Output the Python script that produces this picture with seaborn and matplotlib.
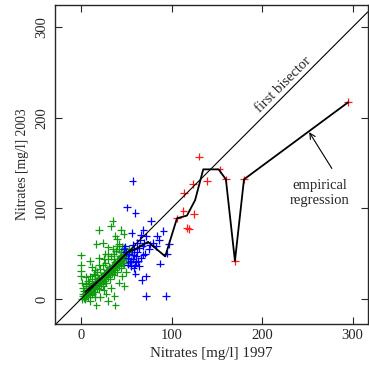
# Nitrates 1997 vs 2003
import pandas as pd
import matplotlib
matplotlib.use('Agg')
import matplotlib.pyplot as plt
import seaborn as sns

# dados
verde_x = [0, 0, 0, 0, 1, 2, 17, 24, 20, 35, 33, 44, 47, 40, 42, 38, 30, 27, 10, 12,
           28, 37, 21, 17, 38, 30, 48, 45, 42, 33, 25, 15, 10, 8, 5, 50, 52, 36, 20, 14,
           1, 2, 3, 4, 5, 6, 7, 8, 9, 10, 11, 12, 13, 14, 15, 16, 17, 18, 19, 20,
           21, 22, 23, 24, 25, 26, 27, 28, 29, 30, 31, 32, 33, 34, 35, 36, 37, 38, 39, 40,
           41, 42, 43, 44, 45, 46, 47, 48, 49, 50,
           3, 6, 9, 12, 15, 18, 21, 24, 27, 30, 33, 36, 39, 42, 45, 48,
           5, 10, 15, 20, 25, 30, 35, 40, 44,
           4, 8, 12, 16, 20, 24, 28, 32, 36, 40, 44, 48,
           10, 14, 18, 22, 26, 30, 34, 38, 42, 46, 50,
           2, 5, 8, 11, 14, 17, 20, 23, 26, 29, 32, 35, 38, 41, 44, 47, 50,
           6, 9, 13, 16, 19, 22, 25, 28, 31, 34, 37, 40, 43, 46, 49, 52, 53, 55]
verde_y = [48, 38, 31, 25, 18, 12, 61, 62, 76, 86, 80, 76, 72, 66, 61, 70, 57, 50, 42, 35,
           6, 3, 2, -7, -7, -2, 14, 25, 18, 12, 10, 2, -2, 20, 24, 30, 40, 44, 45, 28,
           0, 3, 1, 5, 3, 8, 5, 10, 7, 12, 9, 14, 11, 16, 13, 18, 15, 20, 17, 22,
           19, 24, 21, 26, 23, 28, 25, 30, 27, 32, 29, 34, 31, 36, 33, 38, 35, 40, 37, 42,
           39, 44, 41, 46, 43, 48, 45, 50, 47, 52,
           9, 14, 18, 22, 26, 30, 33, 37, 40, 44, 47, 50, 53, 55, 58, 56,
           16, 25, 32, 38, 44, 50, 55, 58, 52,
           0, 2, 5, 8, 11, 14, 18, 22, 26, 30, 34, 38,
           4, 8, 12, 16, 20, 24, 28, 32, 36, 40, 44,
           6, 7, 6, 14, 12, 20, 18, 26, 24, 32, 30, 38, 36, 44, 42, 50, 48,
           4, 12, 16, 14, 23, 20, 29, 26, 35, 32, 41, 38, 47, 44, 53, 50, 55, 52]

azul_x = [57, 51, 60, 77, 91, 56, 69, 72, 86, 95, 87, 69, 60, 67, 72, 72, 94, 56, 61, 54,
          49, 65, 80, 84, 97, 83, 66, 55, 52, 58, 62, 64, 57, 60, 63, 66, 53, 59, 68, 70,
          75, 62, 50, 55, 58, 47, 64, 71, 76, 52, 57, 61]
azul_y = [130, 101, 95, 86, 75, 73, 76, 69, 65, 50, 39, 49, 28, 21, 25, 3, 3, 54, 47, 41,
          58, 65, 62, 70, 61, 58, 71, 42, 45, 48, 52, 56, 60, 38, 42, 45, 50, 55, 58, 62,
          55, 62, 52, 36, 34, 55, 36, 50, 60, 38, 44, 41]

vermelho_x = [106, 113, 114, 117, 119, 124, 125, 130, 139, 153, 160, 170, 180, 295]
vermelho_y = [89, 97, 117, 78, 77, 127, 94, 157, 130, 143, 132, 42, 132, 217]

# regressao empirica
reg_x = [5, 25, 52, 60, 74, 93, 106, 117, 126, 135, 152, 160, 170, 180, 295]
reg_y = [8, 25, 52, 55, 63, 47, 89, 92, 109, 143, 143, 132, 42, 132, 217]

df = pd.DataFrame({
    'x': verde_x + azul_x + vermelho_x,
    'y': verde_y + azul_y + vermelho_y,
    'grupo': ['v'] * len(verde_x) + ['a'] * len(azul_x) + ['r'] * len(vermelho_x),
})
df_reg = pd.DataFrame({'x': reg_x, 'y': reg_y})

sns.set_style('ticks')
plt.rcParams['font.family'] = ['Liberation Serif', 'DejaVu Serif']

fig = plt.figure(figsize=(3.69, 3.72), dpi=100)
ax = fig.add_axes([0.149, 0.129, 0.848, 0.858])

sns.scatterplot(data=df, x='x', y='y', hue='grupo', marker='+', s=30, linewidth=0.9,
                palette={'v': '#109a10', 'a': '#0000ff', 'r': '#ff1a1a'},
                legend=False, ax=ax)
ax.axline((0, 0), slope=1, color='black', lw=0.8)
sns.lineplot(data=df_reg, x='x', y='y', sort=False, color='black', lw=1.3, ax=ax)

ax.text(223, 236, 'first bisector', rotation=45, ha='center', va='center', fontsize=10.5)
ax.text(264, 117, 'empirical\nregression', ha='center', va='center', fontsize=10.5,
        linespacing=1.2)
ax.annotate('', xy=(252, 184), xytext=(277, 144),
            arrowprops=dict(arrowstyle='->', color='black', lw=0.8,
                            shrinkA=0, shrinkB=0))

ax.set_xlim(-28.7, 316.8)
ax.set_ylim(-27.6, 324.5)
ax.set_xticks([0, 100, 200, 300])
ax.set_yticks([0, 100, 200, 300])
ax.tick_params(direction='in', length=5, width=0.8, top=True, right=True,
               labeltop=False, labelright=False, labelsize=10.5)
ax.tick_params(axis='y', pad=5)
for lab in ax.get_yticklabels():
    lab.set_rotation(90)
    lab.set_va('center')
for s in ax.spines.values():
    s.set_linewidth(1)
ax.set_xlabel('Nitrates [mg/l] 1997', fontsize=10.8)
ax.set_ylabel('Nitrates [mg/l] 2003', fontsize=9.8)

fig.savefig('out.png', dpi=100)
